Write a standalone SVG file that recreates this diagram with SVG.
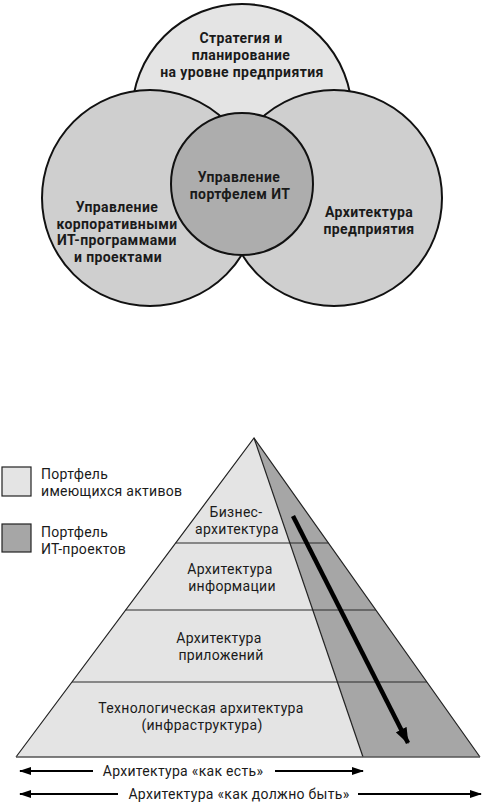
<svg xmlns="http://www.w3.org/2000/svg" width="484" height="802" viewBox="0 0 484 802">
<style>
.c{stroke:#111;stroke-width:2}
.b{font-family:Roboto,"Liberation Sans",sans-serif;font-weight:bold;font-size:14px;letter-spacing:0.4px;fill:#1a1a1a;text-anchor:middle}
.r{font-family:Roboto,"Liberation Sans",sans-serif;font-size:14px;letter-spacing:0.3px;fill:#1a1a1a;text-anchor:middle}
.l{font-family:Roboto,"Liberation Sans",sans-serif;font-size:14px;letter-spacing:0.3px;fill:#1a1a1a}
.lay{stroke:#2a2a2a;stroke-width:1.2;fill:none}
.ar{stroke:#000;stroke-width:2;fill:none}
</style>
<defs>
<marker id="ah" viewBox="0 0 12 8" refX="11" refY="4" markerWidth="12" markerHeight="8" markerUnits="userSpaceOnUse" orient="auto-start-reverse">
<path d="M0,0 L12,4 L0,8 Z" fill="#000"/>
</marker>
<marker id="ahb" viewBox="0 0 16 12" refX="15" refY="6" markerWidth="16" markerHeight="12" markerUnits="userSpaceOnUse" orient="auto">
<path d="M0,0 L16,6 L0,12 Z" fill="#000"/>
</marker>
</defs>
<rect width="484" height="802" fill="#fff"/>

<g id="strategy">
<circle class="c" cx="242" cy="114" r="110" fill="#e4e4e4"/>
<text class="b" x="241" y="43">Стратегия и</text>
<text class="b" x="241" y="60">планирование</text>
<text class="b" x="242" y="77">на уровне предприятия</text>
</g>
<g id="architecture">
<circle class="c" cx="334" cy="198" r="108" fill="#cfcfcf"/>
<text class="b" x="369" y="217">Архитектура</text>
<text class="b" x="369" y="233.5">предприятия</text>
</g>
<g id="programs">
<circle class="c" cx="150" cy="198" r="108" fill="#cfcfcf"/>
<text class="b" x="117" y="212">Управление</text>
<text class="b" x="117" y="228.5">корпоративными</text>
<text class="b" x="117" y="245">ИТ-программами</text>
<text class="b" x="118" y="261.5">и проектами</text>
</g>
<g id="portfolio">
<circle class="c" cx="242" cy="184" r="71" fill="#adadad"/>
<text class="b" x="239" y="182">Управление</text>
<text class="b" x="240" y="198.5">портфелем ИТ</text>
</g>

<g id="legend-assets">
<rect x="2" y="467" width="29" height="29" fill="#e4e4e4" stroke="#222" stroke-width="1.2"/>
<text class="l" x="41" y="479">Портфель</text>
<text class="l" x="41" y="495.5">имеющихся активов</text>
</g>
<g id="legend-projects">
<rect x="2" y="524" width="29" height="28" fill="#a6a6a6" stroke="#222" stroke-width="1.2"/>
<text class="l" x="41" y="537">Портфель</text>
<text class="l" x="41" y="553.5">ИТ-проектов</text>
</g>

<g id="pyramid">
<polygon points="254,438 16,757 363,757" fill="#e4e4e4"/>
<polygon points="254,438 480,757 363,757" fill="#a6a6a6"/>
<line class="lay" x1="175.7" y1="543" x2="328.4" y2="543"/>
<line class="lay" x1="125.7" y1="610" x2="375.8" y2="610"/>
<line class="lay" x1="72" y1="682" x2="426.8" y2="682"/>
<polyline points="16,757 254,438 480,757" fill="none" stroke="#222" stroke-width="1.2"/>
<line x1="254" y1="438" x2="363" y2="757" stroke="#222" stroke-width="1.2"/>
<line x1="16" y1="757" x2="480" y2="757" stroke="#555" stroke-width="1.5"/>
</g>
<g id="layer-business">
<text class="r" x="236" y="517">Бизнес-</text>
<text class="r" x="237" y="534">архитектура</text>
</g>
<g id="layer-information">
<text class="r" x="230" y="574">Архитектура</text>
<text class="r" x="232" y="590.5">информации</text>
</g>
<g id="layer-applications">
<text class="r" x="219" y="643">Архитектура</text>
<text class="r" x="221" y="659.5">приложений</text>
</g>
<g id="layer-technology">
<text class="r" x="201" y="713">Технологическая архитектура</text>
<text class="r" x="202" y="729.5">(инфраструктура)</text>
</g>

<g id="connectors">
<line x1="293" y1="516" x2="408" y2="743" stroke="#000" stroke-width="4.5" marker-end="url(#ahb)"/>
<line class="ar" x1="20" y1="771" x2="93" y2="771" marker-start="url(#ah)"/>
<line class="ar" x1="275" y1="771" x2="363" y2="771" marker-end="url(#ah)"/>
<line class="ar" x1="20" y1="794" x2="118" y2="794" marker-start="url(#ah)"/>
<line class="ar" x1="358" y1="794" x2="481" y2="794" marker-end="url(#ah)"/>
</g>
<g id="labels-bottom">
<text class="r" x="183" y="776">Архитектура «как есть»</text>
<text class="r" x="239" y="799">Архитектура «как должно быть»</text>
</g>
</svg>
